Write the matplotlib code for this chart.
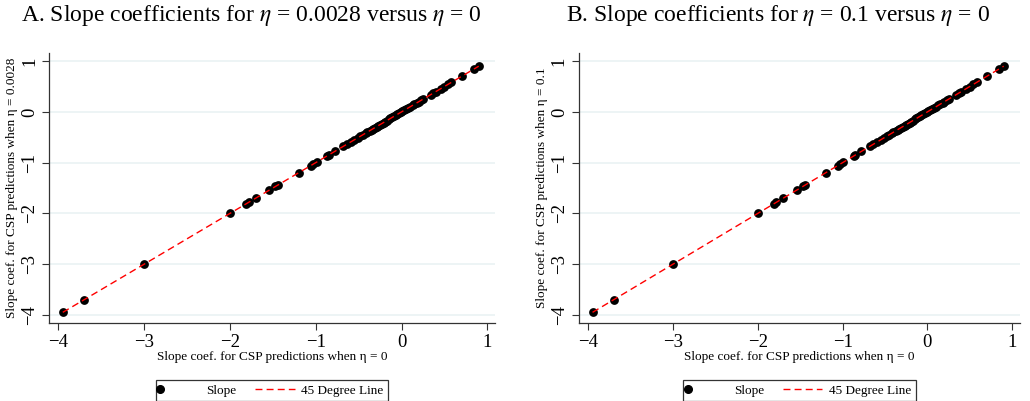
import matplotlib
matplotlib.use("Agg")
import matplotlib.pyplot as plt
from matplotlib.lines import Line2D

plt.rcParams.update({
    "font.family": ["Liberation Serif", "DejaVu Serif"],
    "mathtext.fontset": "stix",
})

# Slope coefficients under eta = 0 (x) and under the alternative eta (y)
slope_eta0 = [
    -3.95, -3.70, -3.00, -2.00, -1.81, -1.78, -1.70, -1.54, -1.47, -1.44,
    -1.20, -1.06, -1.03, -0.99, -0.87, -0.85, -0.78, -0.68, -0.64, -0.59,
    -0.55, -0.51, -0.48, -0.45, -0.42, -0.40, -0.37, -0.35, -0.33, -0.31,
    -0.29, -0.27, -0.25, -0.23, -0.21, -0.19, -0.17, -0.15, -0.13, -0.11,
    -0.09, -0.07, -0.05, -0.03, -0.01, 0.01, 0.03, 0.05, 0.08, 0.10,
    0.13, 0.15, 0.18, 0.20, 0.23, 0.25, 0.34, 0.37, 0.40, 0.46,
    0.50, 0.54, 0.58, 0.70, 0.85, 0.90,
]
slope_eta0028 = list(slope_eta0)
slope_eta01 = list(slope_eta0)

panels = [
    ("A. Slope coefficients for $\\eta$ = 0.0028 versus $\\eta$ = 0",
     "Slope coef. for CSP predictions when \u03b7 = 0.0028", slope_eta0028),
    ("B. Slope coefficients for $\\eta$ = 0.1 versus $\\eta$ = 0",
     "Slope coef. for CSP predictions when \u03b7 = 0.1", slope_eta01),
]
ticks = [-4, -3, -2, -1, 0, 1]

fig = plt.figure(figsize=(10.30, 4.01), dpi=100)
axes_rects = [
    [0.0476, 0.1945, 0.4330, 0.6733],
    [0.5621, 0.1945, 0.4280, 0.6733],
]
title_x = [0.2437, 0.755]

for rect, tx, (title, ylab, ydata) in zip(axes_rects, title_x, panels):
    ax = fig.add_axes(rect)
    ax.scatter(slope_eta0, ydata, s=40, color="black", zorder=3,
               linewidths=0)
    lo, hi = min(slope_eta0), max(slope_eta0)
    ax.plot([lo, hi], [lo, hi], color="red", lw=1.0, ls=(0, (5, 3)),
            zorder=4)

    ax.set_xlim(-4.11, 1.09)
    ax.set_ylim(-4.16, 1.16)
    ax.set_xticks(ticks)
    ax.set_yticks(ticks)
    ax.set_xticklabels([f"{t}".replace("-", "\u2212") for t in ticks],
                       fontsize=13.5)
    ax.set_yticklabels([f"{t}".replace("-", "\u2212") for t in ticks],
                       fontsize=13.5, rotation=90, va="center")
    ax.tick_params(direction="out", length=5, width=0.8, color="#333333",
                   pad=3)
    ax.grid(axis="y", color="#eaf2f3", lw=1.2, zorder=0)
    ax.set_axisbelow(True)
    for side in ("top", "right"):
        ax.spines[side].set_visible(False)
    for side in ("left", "bottom"):
        ax.spines[side].set_color("#333333")
        ax.spines[side].set_linewidth(0.9)

    ax.set_xlabel("Slope coef. for CSP predictions when \u03b7 = 0",
                  fontsize=9.5, labelpad=0)
    ax.set_ylabel(ylab, fontsize=9.5, labelpad=2)

    handles = [
        Line2D([], [], marker="o", color="black", ls="none", markersize=5.5),
        Line2D([], [], color="red", lw=1.0, ls=(0, (5, 3))),
    ]
    leg = ax.legend(handles, ["Slope", "45 Degree Line"], ncol=2,
                    loc="upper center", bbox_to_anchor=(0.5, -0.21),
                    borderaxespad=0, fontsize=9.5, frameon=True,
                    fancybox=False, edgecolor="black", handlelength=3.0,
                    columnspacing=1.4, borderpad=0.35, handletextpad=0.5)
    leg.get_frame().set_linewidth(0.9)
    # keep the dot at the left end of its handle slot
    leg.legend_handles[0].set_xdata([0.0])

    fig.text(tx, 0.962, title, ha="center", va="center", fontsize=17)

fig.savefig("out.png", dpi=100, facecolor="white")
